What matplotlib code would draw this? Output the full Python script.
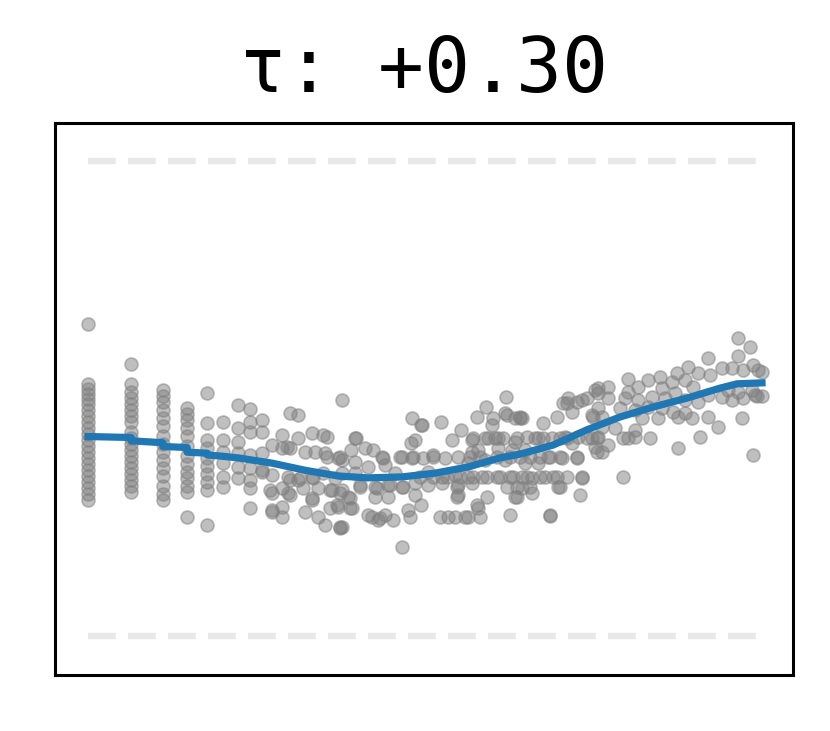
import matplotlib
matplotlib.use("Agg")
import matplotlib.pyplot as plt

# title value
tau = 0.30

# tied columns on the left (x value, list of y values)
col_x = [0.0, 0.064, 0.111, 0.147, 0.177, 0.200, 0.223, 0.240, 0.258]
col_y = [
    [0.657, 0.531, 0.520, 0.509, 0.499, 0.488, 0.476, 0.463, 0.451, 0.438, 0.425,
     0.413, 0.400, 0.387, 0.375, 0.362, 0.349, 0.337, 0.324, 0.312, 0.299, 0.286],
    [0.573, 0.531, 0.514, 0.501, 0.488, 0.476, 0.463, 0.451, 0.429, 0.417, 0.404,
     0.392, 0.379, 0.366, 0.354, 0.341, 0.328, 0.316, 0.303],
    [0.518, 0.505, 0.493, 0.476, 0.459, 0.442, 0.421, 0.404, 0.387, 0.371, 0.354,
     0.337, 0.316, 0.299, 0.286],
    [0.480, 0.467, 0.455, 0.438, 0.421, 0.400, 0.379, 0.362, 0.345, 0.333, 0.316,
     0.303, 0.251],
    [0.512, 0.448, 0.413, 0.396, 0.375, 0.358, 0.341, 0.324, 0.307, 0.234],
    [0.451, 0.413, 0.387, 0.364, 0.335, 0.314],
    [0.486, 0.438, 0.408, 0.385, 0.356, 0.333],
    [0.478, 0.451, 0.429, 0.381, 0.354, 0.328, 0.312, 0.269],
    [0.455, 0.429, 0.385, 0.349, 0.345],
]

# scattered points, middle part
mid_pts = [
    (0.300, 0.469), (0.312, 0.465), (0.288, 0.423), (0.312, 0.417), (0.332, 0.427),
    (0.349, 0.423), (0.355, 0.419), (0.273, 0.402), (0.288, 0.396), (0.300, 0.396),
    (0.322, 0.387), (0.337, 0.387), (0.352, 0.385), (0.371, 0.375), (0.273, 0.339),
    (0.297, 0.335), (0.312, 0.328), (0.332, 0.335), (0.349, 0.343), (0.366, 0.333),
    (0.273, 0.301), (0.297, 0.301), (0.288, 0.312), (0.332, 0.291), (0.362, 0.307),
    (0.369, 0.276), (0.273, 0.261), (0.288, 0.272), (0.288, 0.251), (0.322, 0.261),
    (0.341, 0.251), (0.352, 0.234), (0.374, 0.229), (0.377, 0.497),
    (0.481, 0.459), (0.494, 0.444), (0.524, 0.451), (0.553, 0.434), (0.540, 0.413),
    (0.485, 0.413), (0.479, 0.406), (0.396, 0.417), (0.390, 0.392), (0.411, 0.396),
    (0.423, 0.392), (0.436, 0.377), (0.466, 0.377), (0.481, 0.375), (0.497, 0.375),
    (0.512, 0.381), (0.530, 0.375), (0.549, 0.377), (0.570, 0.387), (0.377, 0.371),
    (0.396, 0.366), (0.415, 0.356), (0.441, 0.360), (0.455, 0.343), (0.504, 0.345),
    (0.525, 0.335), (0.545, 0.339), (0.396, 0.343), (0.377, 0.343), (0.404, 0.314),
    (0.426, 0.314), (0.445, 0.318), (0.466, 0.314), (0.485, 0.322), (0.504, 0.318),
    (0.525, 0.322), (0.549, 0.318), (0.570, 0.322), (0.377, 0.307), (0.386, 0.293),
    (0.426, 0.293), (0.445, 0.293), (0.485, 0.297), (0.494, 0.276), (0.549, 0.297),
    (0.371, 0.272), (0.392, 0.269), (0.475, 0.265), (0.478, 0.251), (0.415, 0.255),
    (0.421, 0.251), (0.430, 0.244), (0.441, 0.255), (0.453, 0.244), (0.522, 0.251),
    (0.534, 0.251), (0.545, 0.251), (0.559, 0.251), (0.377, 0.229), (0.466, 0.187),
    (0.295, 0.398), (0.355, 0.377), (0.374, 0.377), (0.438, 0.375), (0.463, 0.377),
    (0.482, 0.377), (0.398, 0.417), (0.300, 0.328), (0.315, 0.333), (0.334, 0.333),
    (0.270, 0.307), (0.300, 0.297), (0.319, 0.312), (0.341, 0.312), (0.359, 0.307),
    (0.404, 0.318), (0.429, 0.312), (0.448, 0.318), (0.467, 0.314), (0.332, 0.286),
    (0.374, 0.301), (0.389, 0.291), (0.273, 0.265), (0.359, 0.269), (0.389, 0.269),
    (0.433, 0.248), (0.374, 0.227),
]

# scattered points, right part
right_pts = [
    (0.620, 0.503), (0.591, 0.482), (0.577, 0.461), (0.601, 0.459), (0.619, 0.469),
    (0.634, 0.459), (0.644, 0.459), (0.599, 0.444), (0.675, 0.448), (0.705, 0.491),
    (0.712, 0.501), (0.733, 0.497), (0.752, 0.518), (0.757, 0.512), (0.696, 0.461),
    (0.718, 0.472), (0.748, 0.465), (0.763, 0.461), (0.570, 0.413), (0.589, 0.417),
    (0.608, 0.417), (0.634, 0.408), (0.651, 0.419), (0.668, 0.417), (0.688, 0.417),
    (0.708, 0.419), (0.727, 0.419), (0.748, 0.417), (0.718, 0.406), (0.579, 0.392),
    (0.608, 0.396), (0.629, 0.392), (0.648, 0.392), (0.682, 0.377), (0.703, 0.375),
    (0.726, 0.375), (0.564, 0.364), (0.589, 0.371), (0.619, 0.371), (0.648, 0.364),
    (0.668, 0.364), (0.564, 0.335), (0.585, 0.335), (0.607, 0.335), (0.626, 0.335),
    (0.644, 0.335), (0.659, 0.333), (0.678, 0.335), (0.696, 0.335), (0.733, 0.335),
    (0.644, 0.312), (0.659, 0.301), (0.697, 0.314), (0.634, 0.293), (0.592, 0.293),
    (0.730, 0.297), (0.579, 0.269), (0.582, 0.251), (0.564, 0.251), (0.626, 0.255),
    (0.685, 0.253),
    (0.571, 0.417), (0.593, 0.417), (0.604, 0.417), (0.616, 0.417), (0.636, 0.417),
    (0.663, 0.417), (0.675, 0.417), (0.700, 0.417), (0.711, 0.417), (0.740, 0.417),
    (0.755, 0.417), (0.512, 0.377), (0.567, 0.377), (0.582, 0.377), (0.607, 0.377),
    (0.626, 0.377), (0.641, 0.377), (0.656, 0.377), (0.671, 0.377), (0.685, 0.377),
    (0.700, 0.377), (0.493, 0.335), (0.512, 0.335), (0.533, 0.335), (0.552, 0.335),
    (0.571, 0.335), (0.592, 0.335), (0.611, 0.335), (0.631, 0.335), (0.651, 0.335),
    (0.671, 0.335), (0.690, 0.335), (0.711, 0.335), (0.547, 0.314), (0.622, 0.314),
    (0.636, 0.314), (0.656, 0.314), (0.547, 0.293), (0.636, 0.293), (0.577, 0.276),
    (0.622, 0.465), (0.641, 0.461), (0.496, 0.444), (0.711, 0.491), (0.726, 0.493),
    (0.740, 0.501), (0.749, 0.461),
    (0.964, 0.627), (0.982, 0.608), (0.964, 0.589), (0.987, 0.571), (0.920, 0.585),
    (0.890, 0.566), (0.874, 0.554), (0.941, 0.564), (0.955, 0.564), (0.972, 0.560),
    (0.994, 0.560), (0.905, 0.554), (0.923, 0.549), (0.849, 0.545), (0.831, 0.539),
    (0.801, 0.541), (0.866, 0.535), (0.886, 0.539), (0.772, 0.524), (0.757, 0.522),
    (0.816, 0.524), (0.852, 0.522), (0.898, 0.524), (0.871, 0.512), (0.950, 0.518),
    (0.964, 0.514), (0.985, 0.518), (0.941, 0.503), (0.955, 0.497), (0.972, 0.501),
    (0.990, 0.507), (0.920, 0.507), (0.772, 0.501), (0.797, 0.501), (0.816, 0.497),
    (0.837, 0.503), (0.856, 0.501), (0.801, 0.514), (0.886, 0.497), (0.905, 0.493),
    (0.789, 0.480), (0.812, 0.476), (0.831, 0.482), (0.852, 0.480), (0.868, 0.472),
    (0.886, 0.469), (0.993, 0.505), (0.822, 0.459), (0.846, 0.459), (0.875, 0.461),
    (0.896, 0.459), (0.920, 0.461), (0.970, 0.459), (0.935, 0.440), (0.757, 0.480),
    (0.763, 0.440), (0.782, 0.438), (0.812, 0.434), (0.801, 0.417), (0.834, 0.417),
    (0.908, 0.419), (0.757, 0.419), (0.772, 0.402), (0.763, 0.387), (0.875, 0.396),
    (0.987, 0.381), (0.794, 0.335), (0.752, 0.398),
    (0.641, 0.459), (0.685, 0.255), (0.733, 0.333), (0.700, 0.314), (0.726, 0.377),
    (0.755, 0.387), (0.794, 0.417), (0.812, 0.419), (1.0, 0.555), (1.0, 0.505),
]

# fitted curve
fit_x = [0.0, 0.064, 0.064, 0.111, 0.111, 0.147, 0.147, 0.177, 0.177, 0.196, 0.223,
         0.273, 0.322, 0.371, 0.415, 0.466, 0.515, 0.564, 0.611, 0.641, 0.690, 0.740,
         0.789, 0.838, 0.889, 0.938, 0.963, 1.0]
fit_y = [0.420, 0.418, 0.411, 0.407, 0.399, 0.397, 0.387, 0.385, 0.381, 0.379, 0.375,
         0.364, 0.349, 0.337, 0.333, 0.335, 0.343, 0.356, 0.375, 0.383, 0.402, 0.434,
         0.461, 0.482, 0.501, 0.522, 0.531, 0.533]

# reference levels
levels = [0.0, 1.0]

xs, ys = [], []
for cx, cys in zip(col_x, col_y):
    for cy in cys:
        xs.append(cx)
        ys.append(cy)
for px, py in mid_pts + right_pts:
    xs.append(px)
    ys.append(py)

plt.rcParams['lines.scale_dashes'] = False
fig = plt.figure(figsize=(4.15, 3.655), dpi=200)
ax = fig.add_axes([0.0663, 0.0766, 0.8891, 0.7551])

for lv in levels:
    ax.plot([0, 1], [lv, lv], color='#e8e8e8', lw=2.3, dashes=(10, 4.4), zorder=1)

ax.scatter(xs, ys, s=22, color='gray', alpha=0.5, linewidths=0.6, zorder=2)
ax.plot(fit_x, fit_y, color='#1f77b4', lw=2.6, zorder=3)

ax.set_xlim(-0.049, 1.046)
ax.set_ylim(-0.082, 1.08)
ax.set_xticks([])
ax.set_yticks([])
for sp in ax.spines.values():
    sp.set_linewidth(1.1)

ax.set_title(f"τ: {tau:+.2f}", fontsize=27.5, family='DejaVu Sans Mono', pad=11)

fig.savefig("out.png", dpi=200)
